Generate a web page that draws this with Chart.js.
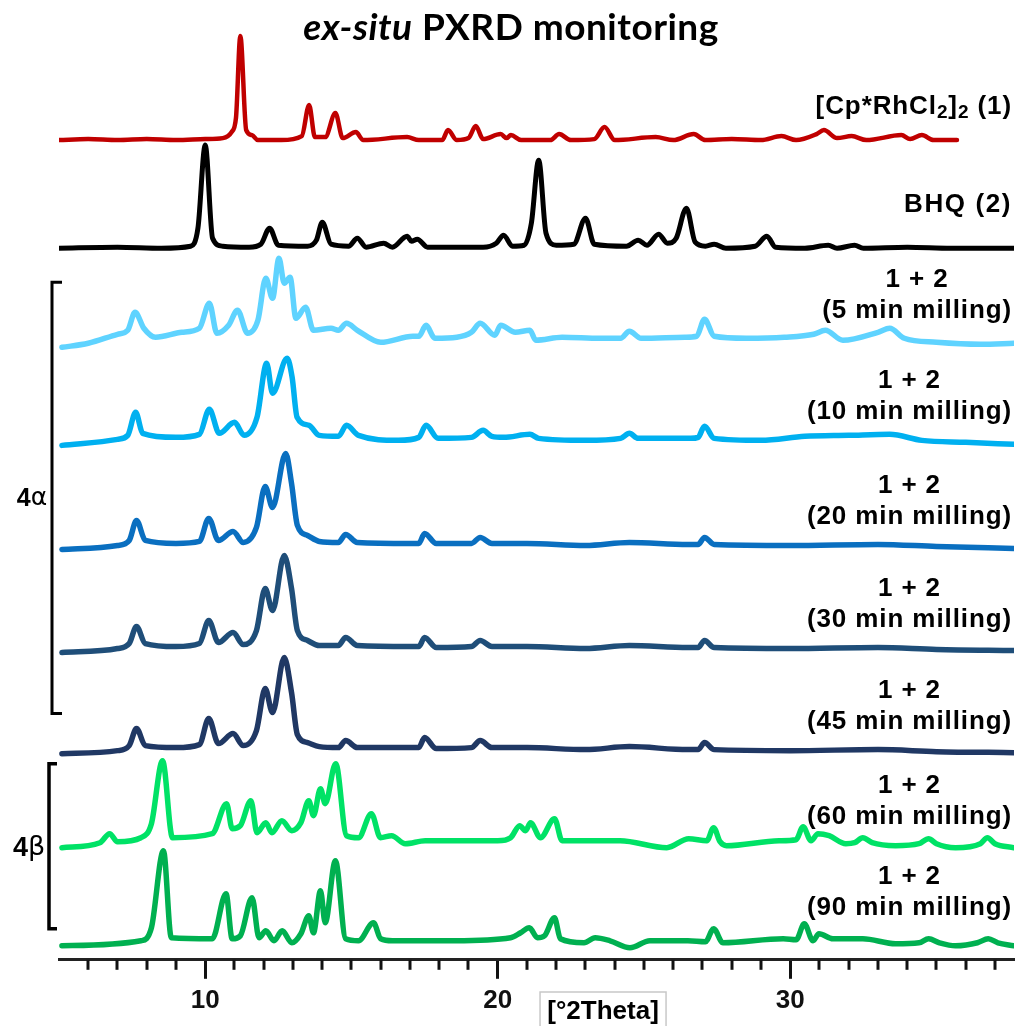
<!DOCTYPE html>
<html>
<head>
<meta charset="utf-8">
<title>ex-situ PXRD monitoring</title>
<script src="https://cdn.jsdelivr.net/npm/chart.js@4"></script>
<style>
  html, body { margin: 0; padding: 0; background: #fff; }
  #wrap { position: relative; width: 1020px; height: 1026px; }
</style>
</head>
<body>
<div id="wrap"><canvas id="pxrd" width="1020" height="1026"></canvas></div>
<script>
// 2Theta range and tick labels
const xMin = 5;
const xMax = 37.65;
const majorTicks = [10, 20, 30];

// patterns: [2Theta, intensity above the trace baseline]
const rhDimer = [
  [5, 0], [6, 1], [7, 0], [8, 1], [9, 0], [10, 1], [10.6, 2], [10.9, 8], [11.05, 22], [11.2, 104],
  [11.4, 10], [11.6, 5], [11.8, 0], [12.6, 0], [13.3, 4], [13.55, 35], [13.75, 3], [14.1, 3],
  [14.45, 27], [14.7, 2], [15.15, 8], [15.4, 0], [16.9, 3], [17.3, 0], [18.1, 0], [18.3, 10],
  [18.6, 0], [19.0, 2], [19.25, 14], [19.5, 1], [20.1, 6], [20.3, 2], [20.45, 5], [20.8, 0],
  [21.8, 0], [22.1, 6], [22.5, 0], [23.3, 1], [23.65, 13], [24.0, 0], [25.4, 3], [26.0, 0],
  [26.7, 6], [27.1, 0], [28, 1], [29, 0], [29.7, 4], [30.2, 0], [30.9, 6], [31.15, 10],
  [31.6, 2], [32.1, 4], [32.6, 0], [33.8, 5], [34.1, 1], [34.5, 5], [34.9, 0], [35.7, 0]
];
const bhq = [
  [5, 0], [7, 1], [8.5, 0], [9.5, 2], [9.75, 20], [10.0, 103], [10.25, 10], [10.6, 2], [11.5, 1],
  [11.9, 4], [12.2, 20], [12.5, 3], [13.5, 2], [13.8, 8], [14.0, 26], [14.3, 4], [14.9, 2],
  [15.2, 10], [15.5, 1], [16.1, 5], [16.4, 1], [16.9, 12], [17.05, 7], [17.25, 9], [17.6, 1],
  [19.5, 1], [19.95, 5], [20.2, 13], [20.5, 2], [20.9, 3], [21.15, 25], [21.4, 88], [21.65, 15],
  [22.0, 3], [22.6, 4], [23.0, 30], [23.3, 4], [24.4, 2], [24.8, 8], [25.1, 3], [25.5, 14],
  [25.8, 5], [26.1, 10], [26.45, 40], [26.75, 6], [27.1, 2], [27.4, 4], [27.8, 0], [28.8, 2],
  [29.2, 12], [29.5, 1], [30.5, 0], [31.3, 3], [31.6, 0], [32.2, 3], [32.5, 0], [34, 1],
  [35.5, 0], [37.65, 0]
];
const mill5 = [
  [5.1, -7], [6.0, -3], [7.0, 6], [7.35, 10], [7.6, 28], [7.9, 12], [8.3, 3], [9.2, 8], [9.8, 12],
  [10.14, 37], [10.4, 7], [10.8, 15], [11.1, 30], [11.45, 7], [11.8, 20], [12.07, 62], [12.3, 42],
  [12.52, 82], [12.7, 57], [12.9, 63], [13.1, 22], [13.43, 33], [13.7, 10], [14.3, 12],
  [14.55, 10], [14.83, 17], [15.2, 10], [16.0, -2], [17.1, 4], [17.3, 4], [17.55, 15],
  [17.85, 2], [18.6, 3], [19.1, 8], [19.4, 17], [19.9, 5], [20.1, 15], [20.6, 8], [21.1, 10],
  [21.3, 0], [22.2, 3], [23.5, 2], [24.2, 2], [24.5, 9], [24.9, 2], [26.4, 3], [26.8, 4],
  [27.07, 21], [27.4, 4], [28.5, 2], [29.8, 3], [30.8, 6], [31.2, 10], [31.8, 0], [33.0, 8],
  [33.4, 12], [33.9, 2], [35.0, -2], [36.5, -4], [37.65, -3]
];
const mill10 = [
  [5.1, -5], [7.0, 1], [7.35, 5], [7.62, 28], [7.86, 7], [9.0, 3], [9.8, 6], [10.14, 31],
  [10.48, 7], [11.0, 18], [11.33, 5], [11.77, 23], [12.1, 77], [12.3, 47], [12.8, 82],
  [12.97, 63], [13.14, 23], [13.55, 15], [13.9, 5], [14.55, 4], [14.83, 15], [15.24, 5],
  [16.6, 0], [17.3, 3], [17.55, 15], [17.96, 2], [19.1, 3], [19.5, 10], [19.8, 4], [20.2, 3],
  [21.1, 6], [21.4, 2], [23.0, 0], [24.2, 2], [24.5, 7], [24.8, 2], [26.6, 2], [26.85, 3],
  [27.07, 14], [27.4, 2], [29.0, 0], [30.5, 4], [32.0, 5], [33.4, 6], [34.5, 0], [36.0, -2],
  [37.65, -4]
];
const mill20 = [
  [5.1, -4], [7.0, 0], [7.4, 5], [7.65, 25], [7.95, 5], [9.0, 2], [9.8, 4], [10.12, 27],
  [10.45, 5], [10.95, 14], [11.3, 3], [11.75, 18], [12.05, 59], [12.3, 38], [12.75, 92],
  [12.95, 62], [13.15, 20], [13.5, 10], [13.9, 4], [14.55, 3], [14.8, 11], [15.2, 3], [17.0, 2],
  [17.3, 2], [17.5, 12], [17.9, 2], [19.1, 2], [19.4, 8], [19.8, 2], [21.0, 2], [23.0, 0],
  [24.5, 3], [26.5, 1], [26.85, 1], [27.07, 8], [27.4, 1], [30.0, 0], [33.0, 1], [35.0, -1],
  [37.65, -3]
];
const mill30 = [
  [5.1, -4], [7.0, 0], [7.4, 5], [7.65, 22], [7.95, 5], [9.0, 2], [9.8, 5], [10.12, 28],
  [10.45, 6], [10.95, 16], [11.3, 4], [11.75, 18], [12.05, 60], [12.3, 38], [12.7, 93],
  [12.95, 60], [13.15, 18], [13.5, 8], [13.9, 3], [14.55, 3], [14.8, 11], [15.2, 3], [17.0, 2],
  [17.3, 2], [17.5, 11], [17.9, 1], [19.1, 2], [19.4, 8], [19.8, 2], [21.0, 2], [23.0, 0],
  [24.5, 3], [26.5, 1], [26.85, 1], [27.07, 8], [27.4, 1], [30.0, 0], [33.0, 1], [35.0, -1],
  [37.65, -2]
];
const mill45 = [
  [5.1, -3], [7.0, 0], [7.4, 5], [7.65, 22], [7.95, 5], [9.0, 3], [9.8, 6], [10.12, 32],
  [10.45, 7], [10.95, 17], [11.3, 5], [11.75, 20], [12.05, 62], [12.3, 38], [12.7, 93],
  [12.95, 58], [13.15, 16], [13.5, 8], [13.9, 4], [14.55, 3], [14.8, 10], [15.2, 3], [17.0, 3],
  [17.3, 3], [17.5, 13], [17.9, 2], [19.1, 3], [19.4, 10], [19.8, 3], [21.0, 3], [23.0, 1],
  [24.5, 4], [26.5, 1], [26.85, 1], [27.07, 8], [27.4, 1], [30.0, 0], [33.0, 1], [35.0, -1],
  [37.65, -2]
];
const mill60 = [
  [5.1, -2], [6.4, 3], [6.73, 12], [7.0, 4], [7.8, 8], [8.16, 22], [8.54, 85], [8.88, 8],
  [10.24, 12], [10.73, 42], [10.92, 17], [11.2, 20], [11.56, 45], [11.77, 13], [12.07, 23],
  [12.28, 13], [12.62, 25], [12.96, 15], [13.27, 23], [13.54, 45], [13.7, 30], [13.94, 57],
  [14.1, 42], [14.46, 82], [14.83, 10], [15.24, 8], [15.68, 32], [15.99, 8], [16.37, 10],
  [16.84, 2], [17.52, 5], [18.54, 5], [20.0, 5], [20.44, 8], [20.75, 20], [20.95, 15],
  [21.12, 23], [21.46, 8], [21.94, 27], [22.2, 5], [24.18, 5], [25.78, -2], [26.53, 7],
  [27.15, 5], [27.38, 18], [27.6, 4], [27.82, 0], [29.62, 5], [30.2, 6], [30.44, 19],
  [30.71, 5], [30.95, 12], [31.33, 10], [31.9, 2], [32.2, 3], [32.48, 8], [32.8, 3], [33.6, 0],
  [34.4, 2], [34.73, 7], [35.0, 2], [35.65, -2], [36.5, 2], [36.74, 8], [37.0, 2], [37.65, -2]
];
const mill90 = [
  [5.1, 0], [7.8, 5], [8.16, 18], [8.57, 95], [8.84, 8], [10.24, 7], [10.71, 52], [10.92, 7],
  [11.2, 10], [11.6, 48], [11.84, 8], [12.07, 15], [12.35, 5], [12.63, 15], [12.96, 3],
  [13.27, 12], [13.54, 30], [13.7, 13], [13.94, 55], [14.1, 23], [14.45, 85], [14.8, 7],
  [15.24, 5], [15.75, 23], [16.0, 7], [16.4, 5], [17.52, 5], [18.54, 5], [20.44, 8],
  [20.78, 13], [21.08, 18], [21.36, 8], [21.6, 10], [21.94, 28], [22.14, 7], [22.95, 3],
  [23.33, 8], [23.84, 5], [24.52, -2], [25.2, 5], [26.5, 5], [27.1, 4], [27.38, 17], [27.7, 3],
  [29.76, 7], [30.2, 6], [30.48, 22], [30.78, 5], [30.98, 12], [31.46, 7], [32.48, 7], [33.6, 2],
  [34.4, 3], [34.73, 7], [35.1, 3], [35.65, 0], [36.4, 3], [36.77, 7], [37.1, 3], [37.65, 0]
];

// vertical stacking offsets of each pattern
const patterns = [rhDimer, bhq, mill5, mill10, mill20, mill30, mill45, mill60, mill90];
const offsets = [819, 711, 619, 519, 414, 311, 209, 114, 14];
const millTimes = ['5', '10', '20', '30', '45', '60', '90'];

// styles
const colors = ['#c00000', '#000000', '#5fd3ff', '#00b0f0', '#0a6fc0', '#1f4e79', '#203864', '#00e266', '#00b050'];
const widths = [4.5, 5, 5.5, 5.5, 5.5, 5.5, 5.5, 5.5, 5.5];
const labelFont = 'bold 26px Arial, "Liberation Sans", sans-serif';

const datasets = patterns.map((p, i) => ({
  data: p.map(pt => ({ x: pt[0], y: offsets[i] + pt[1] })),
  borderColor: colors[i],
  borderWidth: widths[i],
  pointRadius: 0,
  fill: false,
  cubicInterpolationMode: 'monotone',
  borderJoinStyle: 'round',
  borderCapStyle: 'round'
}));

function drawParts(ctx, parts, x, y, align) {
  // parts: [text, font, dy]
  let total = 0;
  parts.forEach(p => { ctx.font = p[1]; total += ctx.measureText(p[0]).width; });
  let cx = align === 'right' ? x - total : align === 'center' ? x - total / 2 : x;
  ctx.textAlign = 'left';
  parts.forEach(p => {
    ctx.font = p[1];
    ctx.fillText(p[0], cx, y + (p[2] || 0));
    cx += ctx.measureText(p[0]).width;
  });
}

const decorations = {
  id: 'decorations',
  afterDraw(chart) {
    const { ctx, scales: { x, y } } = chart;
    ctx.save();

    // minor ticks
    ctx.strokeStyle = '#111';
    ctx.lineWidth = 3;
    for (let v = Math.ceil(xMin) + 1; v <= Math.floor(xMax); v++) {
      if (majorTicks.includes(v)) continue;
      const px = Math.round(x.getPixelForValue(v));
      ctx.beginPath();
      ctx.moveTo(px, x.top);
      ctx.lineTo(px, x.top + 10);
      ctx.stroke();
    }

    ctx.fillStyle = '#000';
    ctx.textBaseline = 'middle';
    ctx.letterSpacing = '0.5px';

    // title
    drawParts(ctx, [
      ['ex-situ', 'italic bold 37px Lato, sans-serif'],
      [' PXRD monitoring', 'bold 37px Lato, sans-serif']
    ], 511, 28, 'center');

    ctx.letterSpacing = '0.9px';
    const right = 1012;
    // reference patterns
    const yRh = y.getPixelForValue(offsets[0]) - 33;
    const sub = 'bold 19px Arial, "Liberation Sans", sans-serif';
    drawParts(ctx, [
      ['[Cp*RhCl', labelFont], ['2', sub, 6], [']', labelFont], ['2', sub, 6], [' (1)', labelFont]
    ], right, yRh, 'right');
    ctx.font = labelFont;
    ctx.textAlign = 'right';
    ctx.letterSpacing = '1.6px';
    ctx.fillText('BHQ (2)', right, y.getPixelForValue(offsets[1]) - 43);
    ctx.letterSpacing = '0.9px';

    // milling labels
    millTimes.forEach((t, k) => {
      const i = k + 2;
      const base = y.getPixelForValue(offsets[i]);
      const lift = i === 8 ? 9 : 0;
      const line2 = '(' + t + ' min milling)';
      ctx.font = labelFont;
      const w = ctx.measureText(line2).width;
      ctx.textAlign = 'right';
      ctx.fillText(line2, right, base - 29 - lift);
      ctx.textAlign = 'center';
      ctx.fillText('1 + 2', right - w / 2, base - 60 - lift);
    });

    // brackets for the 4alpha and 4beta groups
    ctx.letterSpacing = '0px';
    ctx.lineWidth = 3;
    ctx.strokeStyle = '#000';
    const bracket = (bx, top, bottom, arm) => {
      ctx.beginPath();
      ctx.moveTo(bx + arm, top);
      ctx.lineTo(bx, top);
      ctx.lineTo(bx, bottom);
      ctx.lineTo(bx + arm, bottom);
      ctx.stroke();
    };
    const aTop = y.getPixelForValue(offsets[2] + 58);
    const aBot = y.getPixelForValue(offsets[6] + 37);
    bracket(52, aTop, aBot, 10);
    const bTop = y.getPixelForValue(offsets[7] + 82);
    const bBot = y.getPixelForValue(offsets[8] + 17);
    ctx.lineWidth = 3.5;
    bracket(49, bTop, bBot, 8);
    drawParts(ctx, [['4', 'bold 25px Arial, "Liberation Sans", sans-serif'], ['\u03b1', '25px "DejaVu Sans", sans-serif']], 32, (aTop + aBot) / 2 + 1, 'center');
    drawParts(ctx, [['4', 'bold 27px Arial, "Liberation Sans", sans-serif'], ['\u03b2', '27px "DejaVu Sans", sans-serif']], 29, (bTop + bBot) / 2 + 2, 'center');

    // axis caption box
    const cx = x.getPixelForValue(23.6);
    ctx.strokeStyle = '#c8c8c8';
    ctx.lineWidth = 1.5;
    ctx.strokeRect(cx - 63, 992, 126, 40);
    ctx.font = 'bold 26px Arial, "Liberation Sans", sans-serif';
    ctx.textAlign = 'center';
    ctx.fillText('[\u00b02Theta]', cx, 1012);

    ctx.restore();
  }
};

new Chart(document.getElementById('pxrd'), {
  type: 'line',
  data: { datasets },
  options: {
    responsive: false,
    animation: false,
    devicePixelRatio: 1,
    layout: { padding: { left: 59, right: 0, top: 0, bottom: 4 } },
    plugins: { legend: { display: false }, tooltip: { enabled: false }, title: { display: false } },
    scales: {
      x: {
        type: 'linear',
        min: xMin,
        max: xMax,
        ticks: {
          stepSize: 1,
          autoSkip: false,
          maxRotation: 0,
          padding: 6,
          color: '#111',
          font: { family: 'Arial, "Liberation Sans", sans-serif', size: 26, weight: 'bold' },
          callback: v => majorTicks.includes(v) ? String(v) : ''
        },
        grid: {
          drawOnChartArea: false,
          tickLength: 19,
          tickWidth: 3,
          tickColor: c => (c.tick && majorTicks.includes(c.tick.value)) ? '#111' : 'rgba(0,0,0,0)'
        },
        border: { color: '#222', width: 3 }
      },
      y: { display: false, min: 0, max: 959 }
    }
  },
  plugins: [decorations]
});
</script>
</body>
</html>
